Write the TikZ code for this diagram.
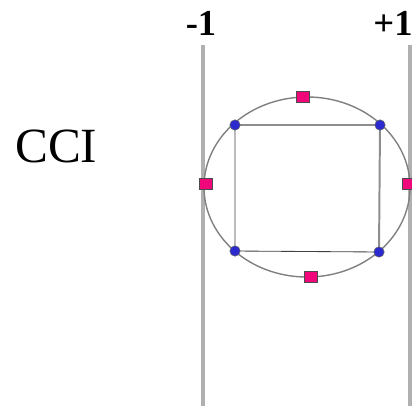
\documentclass[tikz,border=0pt]{standalone}
\usepackage{fontspec}
\setmainfont{Liberation Serif}
\usetikzlibrary{positioning,shapes.geometric,backgrounds}

\definecolor{railgray}{HTML}{B0B0B0}
\definecolor{ringgray}{HTML}{808080}
\definecolor{markpink}{HTML}{F0087A}
\definecolor{dotblue}{HTML}{2A2ACF}

\begin{document}
\begin{tikzpicture}[
    x=0.025cm, y=-0.025cm,
    rail/.style={draw=railgray, line width=2.6pt},
    ring/.style={draw=ringgray, ellipse, line width=1pt, inner sep=0pt, minimum width=5.15cm, minimum height=4.5cm},
    pinkbox/.style={draw=black!70, fill=markpink, rectangle, line width=0.5pt, inner sep=0pt, minimum width=0.33cm, minimum height=0.29cm},
    corner/.style={draw=black!60, fill=dotblue, circle, line width=0.4pt, inner sep=0pt, minimum size=0.26cm},
    sign/.style={font=\bfseries\fontsize{26}{30}\selectfont, inner sep=0pt, anchor=base}
]
\useasboundingbox (0,0) rectangle (412,408);

% vertical rails
\coordinate (lefttop) at (203,45);
\coordinate (leftbot) at (203,406);
\coordinate (righttop) at (410,45);
\coordinate (rightbot) at (410,406);
\draw[rail] (lefttop) -- (leftbot);
\draw[rail] (righttop) -- (rightbot);

\node[sign] (minus) at (201,35) {-1};
\node[sign] (plus) at (393,35) {+1};
\node[font=\fontsize{35}{40}\selectfont, inner sep=0pt, anchor=base west] (cci) at (15,162) {CCI};

% ring and square
\node[ring] (circ) at (307,187) {};

\node[corner] (tl) at (235,125) {};
\node[corner] (tr) at (380,125) {};
\node[corner] (bl) at (235,251) {};
\node[corner] (br) at (379,252) {};

\begin{scope}[on background layer]
\draw[railgray!80!black, line width=1.4pt] (tl.center) -- (tr.center) -- (br.center);
\draw[black!75, line width=0.6pt] (tl.center) -- (bl.center) -- (br.center);
\end{scope}

\node[pinkbox] (mtop) at (303,97) {};
\node[pinkbox] (mbot) at (311,277) {};
\node[pinkbox] (mleft) at (206,184) {};
\node[pinkbox] (mright) at (409,184) {};
\end{tikzpicture}
\end{document}
